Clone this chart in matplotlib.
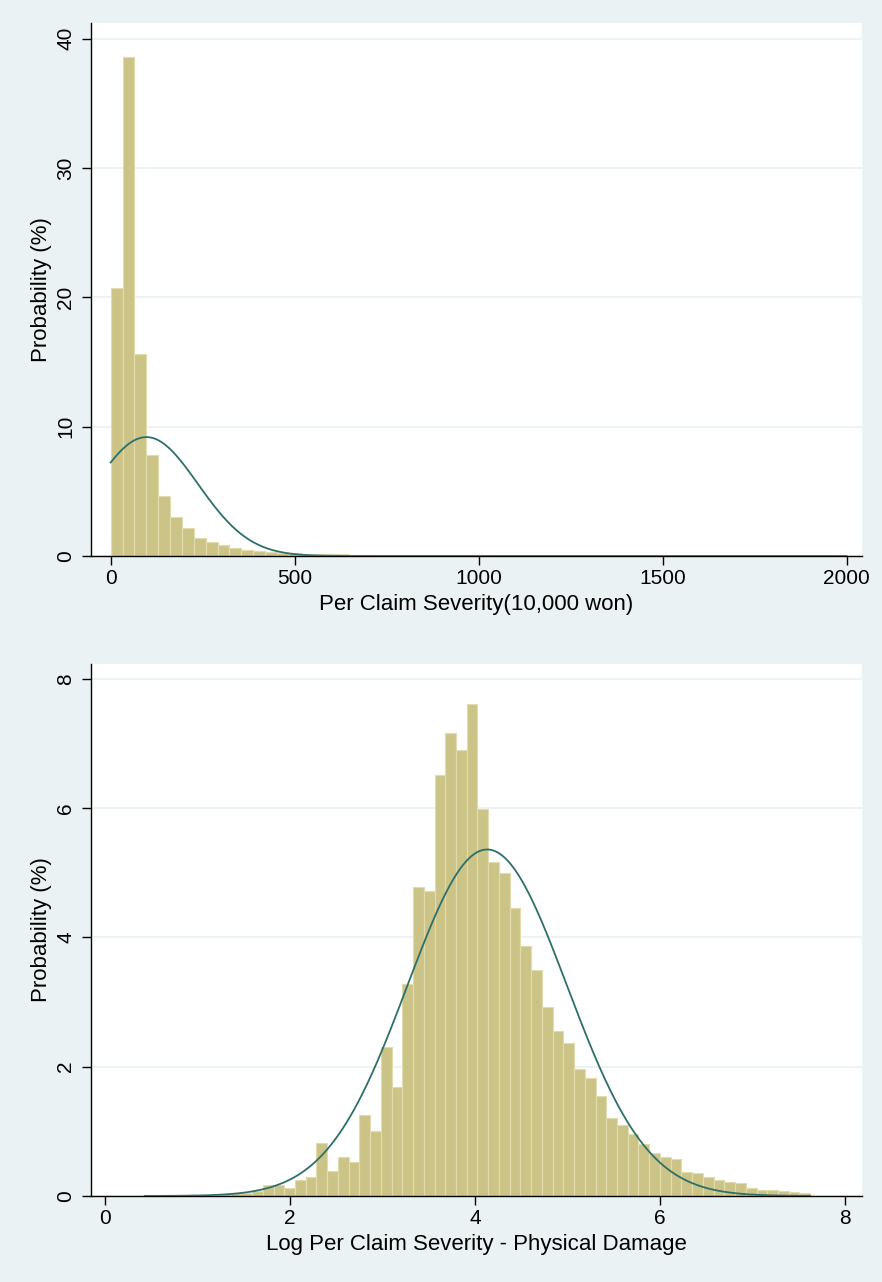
import numpy as np
import matplotlib.pyplot as plt

# -----------------------------
# Data: % of claims per histogram bin
# -----------------------------
severity_pct = [
    20.69, 38.57, 15.64, 7.78, 4.63, 2.98, 2.15, 1.40, 1.05, 0.85,
    0.64, 0.50, 0.41, 0.31, 0.26, 0.21, 0.18, 0.17, 0.13, 0.12,
    0.10, 0.10, 0.08, 0.08, 0.07, 0.06, 0.06, 0.05, 0.05, 0.04,
    0.04, 0.04, 0.03, 0.03, 0.03, 0.02, 0.02, 0.02, 0.02, 0.02,
    0.02, 0.01, 0.01, 0.01, 0.01, 0.01, 0.01, 0.01, 0.01, 0.01,
    0.01, 0.01, 0.01, 0.01, 0.01, 0.01, 0.01, 0.01, 0.01, 0.01,
    0.01, 0.01,
]
log_severity_pct = [
    0.005, 0.005, 0.01, 0.01, 0.01, 0.02, 0.02, 0.03, 0.05, 0.05,
    0.08, 0.17, 0.17, 0.13, 0.24, 0.30, 0.82, 0.39, 0.61, 0.53,
    1.25, 1.00, 2.30, 1.69, 3.28, 4.78, 4.72, 6.52, 7.17, 6.90,
    7.61, 5.98, 5.17, 4.99, 4.45, 3.87, 3.50, 2.92, 2.56, 2.37,
    1.97, 1.82, 1.54, 1.20, 1.10, 0.96, 0.80, 0.67, 0.60, 0.58,
    0.37, 0.35, 0.29, 0.25, 0.22, 0.20, 0.12, 0.10, 0.09, 0.07,
    0.06, 0.04,
]

# data range and the fitted normal overlay of each panel
severity_range = (0, 2000)
severity_mean, severity_sd = 97, 140
log_range = (0.43, 7.62)
log_mean, log_sd = 4.13, 0.863

severity_ticks = [0, 500, 1000, 1500, 2000]
severity_yticks = [0, 10, 20, 30, 40]
log_ticks = [0, 2, 4, 6, 8]
log_yticks = [0, 2, 4, 6, 8]

# Stata s2color look
BG = "#EAF2F3"
BAR = "#CCC487"
BAR_EDGE = "#E0DCAE"
LINE = "#2E6F6A"

plt.rcParams["font.family"] = ["Liberation Sans", "DejaVu Sans"]

W, H = 882, 1282
fig = plt.figure(figsize=(W / 100, H / 100), dpi=100, facecolor=BG)
ax1 = fig.add_axes([91 / W, 1 - 556 / H, 771 / W, 533 / H])
ax2 = fig.add_axes([91 / W, 1 - 1196 / H, 771 / W, 532 / H])


def draw_panel(ax, heights, rng, mu, sd, xticks, yticks, xlim, ylim, xlabel):
    lo, hi = rng
    n = len(heights)
    width = (hi - lo) / n
    left = lo + width * np.arange(n)
    ax.bar(left, heights, width=width, align="edge", color=BAR,
           edgecolor=BAR_EDGE, linewidth=0.8, zorder=2)

    # normal density scaled to % per bin
    xs = np.linspace(lo, hi, 500)
    dens = width * 100 / (sd * np.sqrt(2 * np.pi)) * np.exp(-0.5 * ((xs - mu) / sd) ** 2)
    ax.plot(xs, dens, color=LINE, lw=1.3, zorder=3)

    ax.set_facecolor("white")
    ax.set_xlim(*xlim)
    ax.set_ylim(*ylim)
    ax.set_xticks(xticks)
    ax.set_yticks(yticks)
    ax.grid(axis="y", color=BG, lw=1.3, zorder=0)
    ax.set_axisbelow(True)
    for s in ["top", "right"]:
        ax.spines[s].set_visible(False)
    for s in ["left", "bottom"]:
        ax.spines[s].set_color("black")
        ax.spines[s].set_linewidth(1.0)
    ax.tick_params(direction="out", length=6.5, width=1.0, labelsize=15, pad=3)
    ax.tick_params(axis="y", pad=5)
    for lab in ax.get_yticklabels():
        lab.set_rotation(90)
        lab.set_va("center")
    ax.set_ylabel("Probability (%)", fontsize=16, labelpad=3)
    ax.set_xlabel(xlabel, fontsize=16, labelpad=4)


draw_panel(ax1, severity_pct, severity_range, severity_mean, severity_sd,
           severity_ticks, severity_yticks, (-53.5, 2041.6), (0, 41.2),
           "Per Claim Severity(10,000 won)")
draw_panel(ax2, log_severity_pct, log_range, log_mean, log_sd,
           log_ticks, log_yticks, (-0.151, 8.18), (0, 8.23),
           "Log Per Claim Severity - Physical Damage")

fig.savefig("out.png", dpi=100, facecolor=BG)
